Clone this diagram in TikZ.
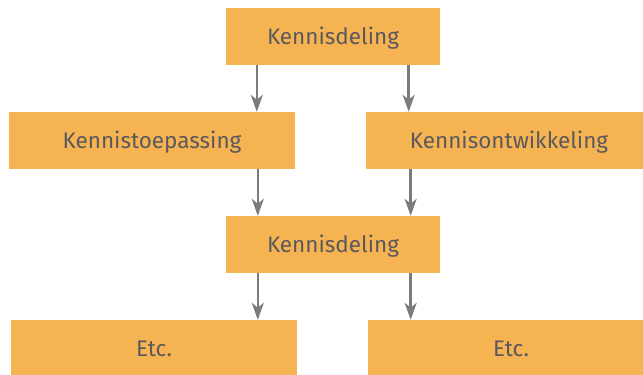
\documentclass[tikz,border=0pt]{standalone}
\usepackage{fontspec}
\setmainfont{Fira Sans}
\usepackage{tikz}
\usetikzlibrary{arrows.meta,positioning,calc}
\definecolor{kdFill}{HTML}{F5B352}
\definecolor{kdText}{HTML}{5A595E}
\definecolor{kdArrow}{HTML}{7B7A7F}
\tikzset{
    kdBox/.style={
        rectangle,
        fill=kdFill,
        minimum height=57pt,
        inner sep=0pt,
        text height=15.5pt,
        text depth=0pt,
        text=kdText,
        font=\fontsize{22.5}{26}\selectfont,
        align=center
    },
    kdWide/.style={kdBox, minimum width=286pt},
    kdNarrow/.style={kdBox, minimum width=214pt}
}
\begin{document}
\begin{tikzpicture}[
    x=1pt, y=1pt,
    arr/.style={-{Stealth[length=17pt, width=12pt, inset=5pt]}, line width=2.6pt, draw=kdArrow}
]
\useasboundingbox (0,0) rectangle (643,375);

% Top
\node[kdNarrow] (kd1) at (333, 338.5) {Kennisdeling};

% Second row
\node[kdWide] (kt) at (152, 234.5) {Kennistoepassing};
\node[kdWide] (ko) at (509, 234.5) {Kennisontwikkeling};

% Middle
\node[kdNarrow] (kd2) at (333, 130.5) {Kennisdeling};

% Bottom row
\node[kdWide] (etc1) at (154, 26.5) {Etc.};
\node[kdWide] (etc2) at (511, 26.5) {Etc.};

% Arrows
\draw[arr] ([xshift=31pt]kd1.south west) -- ([xshift=31pt]kd1.south west |- kt.north);
\draw[arr] ([xshift=-31.5pt]kd1.south east) -- ([xshift=-31.5pt]kd1.south east |- ko.north);
\draw[arr] ([xshift=32pt]kd2.north west |- kt.south) -- ([xshift=32pt]kd2.north west);
\draw[arr] ([xshift=-29.5pt]kd2.north east |- ko.south) -- ([xshift=-29.5pt]kd2.north east);
\draw[arr] ([xshift=32pt]kd2.south west) -- ([xshift=32pt]kd2.south west |- etc1.north);
\draw[arr] ([xshift=-29.5pt]kd2.south east) -- ([xshift=-29.5pt]kd2.south east |- etc2.north);
\end{tikzpicture}
\end{document}
